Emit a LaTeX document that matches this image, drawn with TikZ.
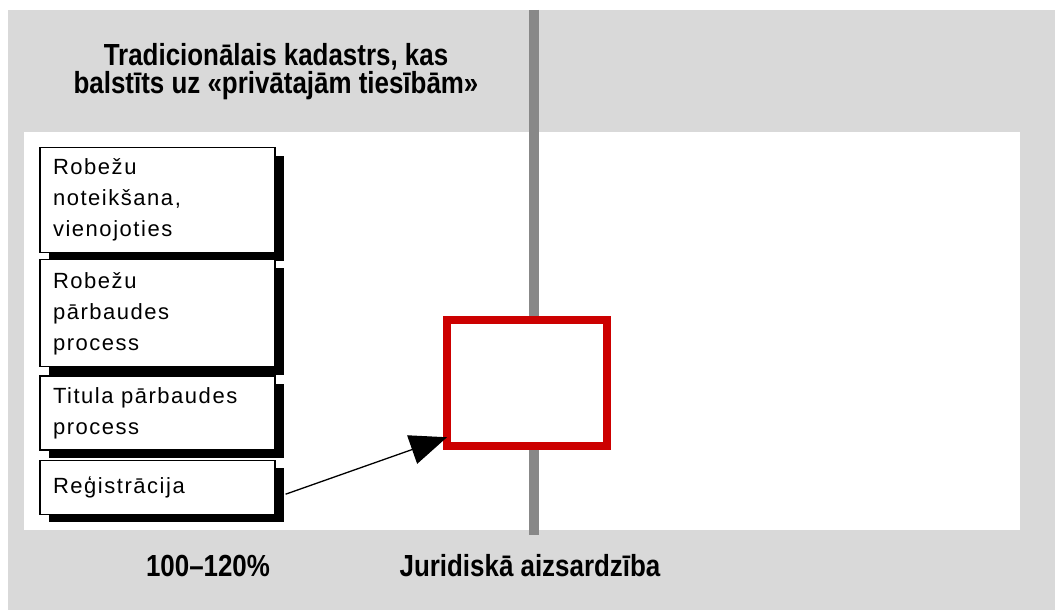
\documentclass[tikz,border=0pt]{standalone}
\usepackage{fontspec}
\setmainfont{Liberation Sans}
\newfontfamily\narrowbold[FakeStretch=0.85]{Liberation Sans Bold}
\newfontfamily\spaced[LetterSpace=7]{Liberation Sans}
\usetikzlibrary{positioning,shadows,arrows.meta}
\definecolor{panelgray}{HTML}{D9D9D9}
\definecolor{linegray}{HTML}{888888}
\definecolor{boxred}{HTML}{CC0000}

\begin{document}
\begin{tikzpicture}[x=1pt,y=-1pt,
  procbox/.style={draw,fill=white,line width=1.2pt,anchor=north,minimum width=235pt,text width=209pt,inner xsep=13pt,align=left,font=\spaced\fontsize{22}{31}\selectfont,drop shadow={shadow xshift=9pt,shadow yshift=-8pt,fill=black,opacity=1}},
  heading/.style={font=\narrowbold\fontsize{30.5}{28}\selectfont,align=center}]
\useasboundingbox (0,0) rectangle (1055,610);
\fill[white] (0,0) rectangle (1055,610);
\fill[panelgray] (8,10) rectangle (1055,610);
\fill[white] (24,132) rectangle (1020,530);
\draw[linegray,line width=10pt] (534,10) -- (534,535);

\node[heading] (trad) at (276,72) {Tradicionālais kadastrs, kas\\balstīts uz «privātajām tiesībām»};

% steps
\node[procbox,minimum height=105pt] (bnd) at (157.5,147) {Robežu\\noteikšana,\\vienojoties};
\node[procbox,minimum height=107pt,below=6pt of bnd] (chk) {Robežu\\pārbaudes\\process};
\node[procbox,minimum height=74pt,below=8pt of chk] (tit) {Titula pārbaudes\\process};
\node[procbox,minimum height=54pt,below=9pt of tit] (reg) {Reģistrācija};

\node[draw=boxred,fill=white,line width=8pt,minimum width=160pt,minimum height=126.5pt,inner sep=0pt] (prot) at (527,383) {};
\coordinate (regout) at ([xshift=10pt,yshift=-7pt]reg.east);
\coordinate (protin) at ([xshift=4pt,yshift=13pt]prot.south west);
\draw[-{Triangle[length=37pt,width=30pt]},line width=1.3pt] (regout) -- (protin);

% bottom labels
\node[heading,anchor=base] (pct) at (208,576) {100–120\%};
\node[heading,anchor=base] (jur) at (530,576) {Juridiskā aizsardzība};
\end{tikzpicture}
\end{document}
